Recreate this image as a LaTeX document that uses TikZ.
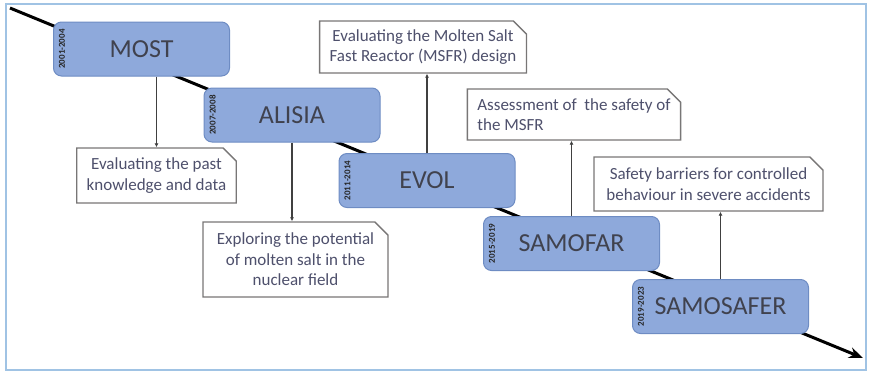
\documentclass[tikz,border=0pt]{standalone}
\usepackage{fontspec}
\setmainfont{Carlito}
\usetikzlibrary{arrows.meta,shapes.misc}
\definecolor{phasefill}{RGB}{142,169,219}
\definecolor{phaseline}{RGB}{110,140,195}
\definecolor{phasetext}{RGB}{64,66,78}
\definecolor{notetext}{RGB}{78,80,108}
\definecolor{noteline}{RGB}{120,118,118}
\definecolor{framecol}{RGB}{160,195,228}
\tikzset{
  phase/.style={draw=phaseline, line width=1pt, fill=phasefill, rounded corners=8pt,
    minimum width=176pt, minimum height=54pt, text=phasetext,
    font=\fontsize{26}{30}\selectfont},
  yearlab/.style={rotate=90, font=\bfseries\fontsize{9}{10}\selectfont, text=black!85, inner sep=0pt},
  note/.style={chamfered rectangle, chamfered rectangle corners=north east,
    chamfered rectangle xsep=10pt, draw=noteline, line width=1.4pt, fill=white,
    text=notetext, font=\fontsize{17}{20.5}\selectfont, align=center, inner sep=0pt},
  link/.style={draw=black!75, line width=1.2pt, -{Latex[length=4pt,width=4pt]}},
  timeline/.style={line width=3pt, -{Stealth[length=14pt,width=11pt]}}
}
\begin{document}
\begin{tikzpicture}[x=1pt,y=-1pt]
\useasboundingbox (0,0) rectangle (873,373);
\draw[framecol, line width=2pt] (6,4) rectangle (866,370);
% time axis behind the phases
\coordinate (tstart) at (10,8);
\coordinate (tend) at (863,358);
\draw[timeline] (tstart) -- (tend);
% project phases
\foreach \nm/\lab/\yr/\x/\y in {most/MOST/2001-2004/141.5/49,
    alisia/ALISIA/2007-2008/292/115, evol/EVOL/2011-2014/427/180.5,
    samofar/SAMOFAR/2015-2019/571.5/243.5, samosafer/SAMOSAFER/2019-2023/720.5/306.5}{
  \node[phase] (\nm) at (\x,\y) {\lab};
  \node[yearlab] (y\nm) at ([xshift=9pt]\nm.west) {\yr};
}
% aims of each phase
\node[note, minimum width=143pt, minimum height=55pt] (evalpast) at (156.5,175.5)
  {Evaluating the past\\knowledge and data};
\node[note, minimum width=185pt, minimum height=75pt] (explore) at (295.5,259.5)
  {Exploring the potential\\of molten salt in the\\nuclear field};
\node[note, minimum width=204pt, minimum height=52pt] (msfr) at (423,47)
  {Evaluating the Molten Salt\\Fast Reactor (MSFR) design};
\node[note, align=left, minimum width=212pt, minimum height=51pt] (assess) at (574,114.5)
  {Assessment of\ \ the safety of\\the MSFR};
\node[note, minimum width=229pt, minimum height=54pt] (safety) at (708.5,184)
  {Safety barriers for controlled\\behaviour in severe accidents};
\draw[link] (evalpast.north |- most.south) -- (evalpast.north);
\draw[link] (alisia.south) -- (alisia.south |- explore.north);
\draw[link] (evol.north) -- (evol.north |- msfr.south);
\draw[link] (samofar.north) -- (samofar.north |- assess.south);
\draw[link] (samosafer.north) -- (samosafer.north |- safety.south);
\end{tikzpicture}
\end{document}
